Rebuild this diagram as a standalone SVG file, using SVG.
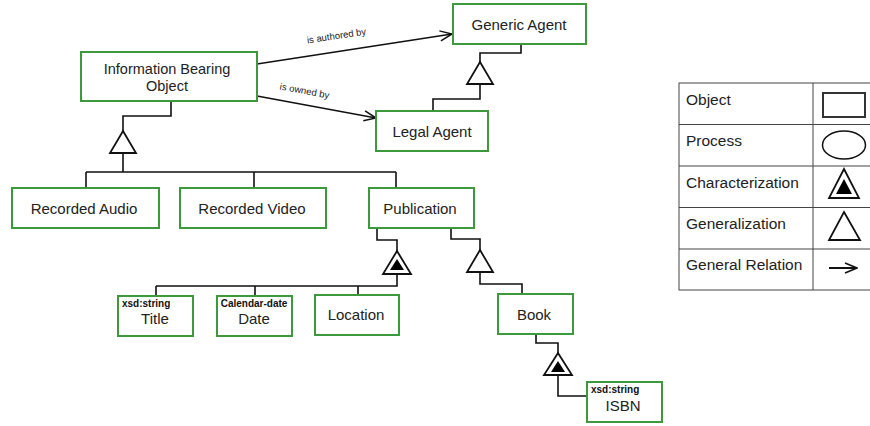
<svg xmlns="http://www.w3.org/2000/svg" width="870" height="426" viewBox="0 0 870 426">
<defs>
<style>
.box{fill:#fff;stroke:#3c9a3c;stroke-width:2}
.t{font-family:"Liberation Sans",Arial,sans-serif;font-size:15px;fill:#222;text-anchor:middle}
.s{font-family:"Liberation Sans",Arial,sans-serif;font-size:10px;fill:#111;font-weight:bold}
.lbl{font-family:"Liberation Sans",Arial,sans-serif;font-size:9.5px;fill:#222;text-anchor:middle}
.ln{fill:none;stroke:#111;stroke-width:1.6}
.tri{fill:#fff;stroke:#111;stroke-width:1.8;stroke-linejoin:miter}
.fill{fill:#000;stroke:none}
.lt{font-family:"Liberation Sans",Arial,sans-serif;font-size:15.5px;fill:#222}
</style>
<marker id="arr" viewBox="0 0 14 12" refX="13" refY="6" markerWidth="14" markerHeight="12" markerUnits="userSpaceOnUse" orient="auto">
<path d="M1,1 L13,6 L1,11" fill="none" stroke="#111" stroke-width="1.5"/>
</marker>
</defs>
<rect width="870" height="426" fill="#fff"/>

<g id="connectors">
<path class="ln" d="M257,64 L452,34" marker-end="url(#arr)"/>
<path class="ln" d="M257,96 L376,118" marker-end="url(#arr)"/>
<text class="lbl" transform="translate(337,39) rotate(-8.7)">is authored by</text>
<text class="lbl" transform="translate(304,94) rotate(10.5)">is owned by</text>
<path class="ln" d="M171,101 V116 H123 V131"/>
<path class="ln" d="M123,153 V172 M86,172 H396 M86,172 V188 M254,172 V188 M396,172 V188"/>
<polygon class="tri" points="123,131 136,153 110,153"/>
<path class="ln" d="M521,44 V53 H480 V62"/>
<polygon class="tri" points="480,62 493,84 467,84"/>
<path class="ln" d="M480,84 V99 H433 V111"/>
<path class="ln" d="M377,228 V240 H397 V251"/>
<polygon class="tri" points="397,251 411,274 383,274"/>
<polygon class="fill" points="397,259 404,270 390,270"/>
<path class="ln" d="M397,274 V286 H156 M156,286 V296 M255,286 V296 M358,286 V295"/>
<path class="ln" d="M451,228 V239 H480 V250"/>
<polygon class="tri" points="480,250 493,272 467,272"/>
<path class="ln" d="M480,272 V284 H522 V294"/>
<path class="ln" d="M536,334 V343 H558 V353"/>
<polygon class="tri" points="558,353 572,375 544,375"/>
<polygon class="fill" points="558,361 565,372 551,372"/>
<path class="ln" d="M558,375 V396 H587"/>
</g>

<g id="ibo"><rect class="box" x="81" y="52" width="176" height="49"/><text class="t" x="167" y="74" style="font-size:14.5px">Information Bearing</text><text class="t" x="167" y="90.5" style="font-size:14.5px">Object</text></g>
<g id="generic-agent"><rect class="box" x="453" y="4" width="133" height="40"/><text class="t" x="519" y="30">Generic Agent</text></g>
<g id="legal-agent"><rect class="box" x="376" y="111" width="112" height="40"/><text class="t" x="432" y="137">Legal Agent</text></g>
<g id="recorded-audio"><rect class="box" x="12" y="188" width="147" height="40"/><text class="t" x="84" y="214">Recorded Audio</text></g>
<g id="recorded-video"><rect class="box" x="180" y="188" width="146" height="40"/><text class="t" x="252" y="214">Recorded Video</text></g>
<g id="publication"><rect class="box" x="369" y="188" width="105" height="40"/><text class="t" x="420" y="214">Publication</text></g>
<g id="title"><rect class="box" x="118" y="296" width="75" height="40"/><text class="s" x="122" y="307">xsd:string</text><text class="t" x="155" y="324">Title</text></g>
<g id="date"><rect class="box" x="217" y="296" width="75" height="40"/><text class="s" x="254" y="307" text-anchor="middle">Calendar-date</text><text class="t" x="254" y="324">Date</text></g>
<g id="location"><rect class="box" x="315" y="295" width="84" height="40"/><text class="t" x="356" y="320">Location</text></g>
<g id="book"><rect class="box" x="498" y="294" width="75" height="40"/><text class="t" x="534" y="320">Book</text></g>
<g id="isbn"><rect class="box" x="587" y="382" width="75" height="40"/><text class="s" x="591" y="393">xsd:string</text><text class="t" x="623" y="411">ISBN</text></g>

<g id="legend">
<rect x="679" y="83" width="200" height="207" fill="#fff" stroke="#444" stroke-width="1"/>
<path d="M813,83 V290 M679,124.5 H870 M679,166 H870 M679,207.5 H870 M679,249 H870" stroke="#444" stroke-width="1" fill="none"/>
<text class="lt" x="686" y="105">Object</text>
<text class="lt" x="686" y="146">Process</text>
<text class="lt" x="686" y="188">Characterization</text>
<text class="lt" x="686" y="229">Generalization</text>
<text class="lt" x="686" y="270">General Relation</text>
<rect x="823" y="93" width="42" height="24" fill="#fff" stroke="#333" stroke-width="2"/>
<ellipse cx="844" cy="145" rx="21.5" ry="14" fill="#fff" stroke="#111" stroke-width="1.5"/>
<polygon class="tri" points="844,169 859,198 829,198"/>
<polygon class="fill" points="844,179 852,194 836,194"/>
<polygon class="tri" points="844,212 860,240 829,240"/>
<path d="M829,268 H857" stroke="#111" stroke-width="2" marker-end="url(#arr)"/>
</g>
</svg>
